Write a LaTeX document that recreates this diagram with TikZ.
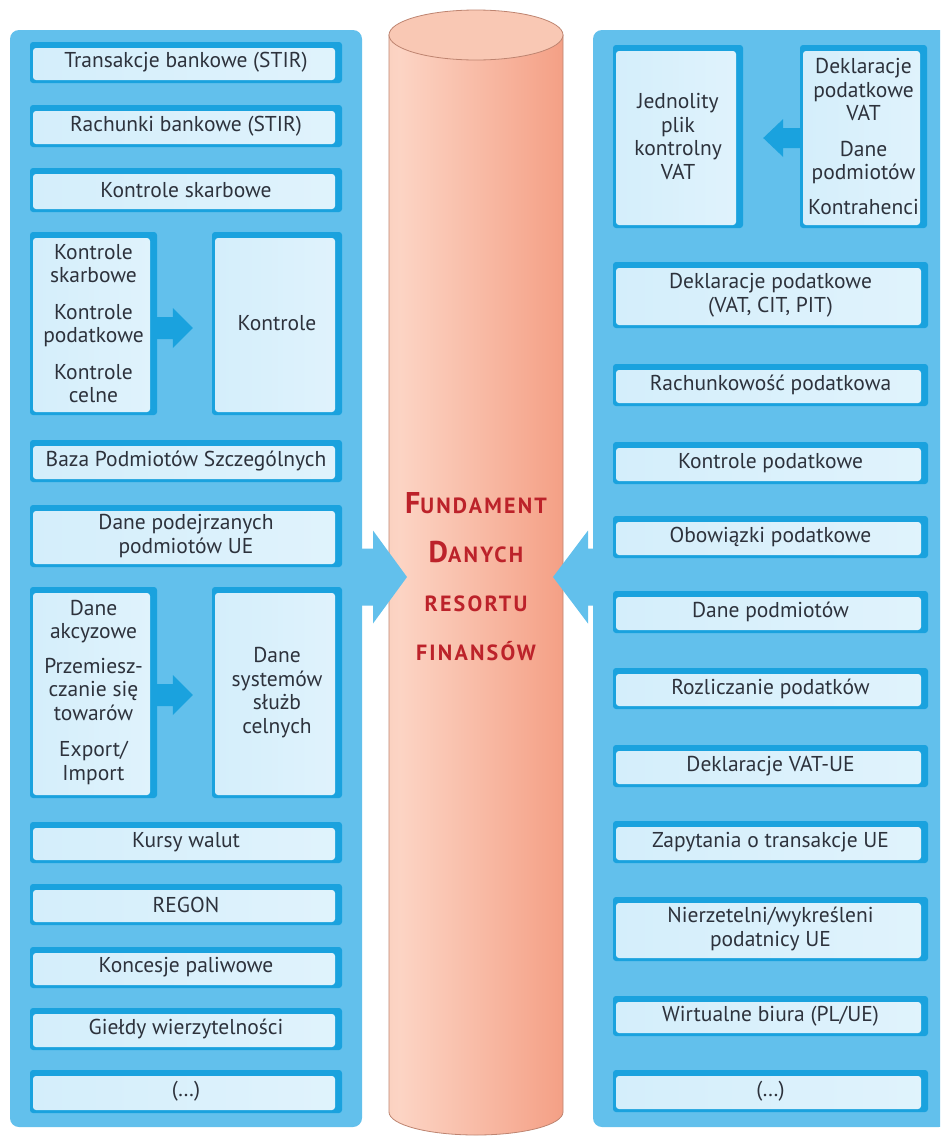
\documentclass[tikz,border=0pt]{standalone}
\usepackage{fontspec}
\setmainfont{PT Sans}
\newfontfamily\titlefam[LetterSpace=10]{PT Sans}
\usetikzlibrary{arrows.meta,calc}
\definecolor{panelblue}{RGB}{98,192,236}
\definecolor{bordblue}{RGB}{26,162,222}
\definecolor{inL}{RGB}{212,238,251}
\definecolor{inM}{RGB}{244,251,254}
\definecolor{inR}{RGB}{224,243,252}
\definecolor{txtcol}{RGB}{45,50,60}
\definecolor{cylA}{RGB}{245,190,166}
\definecolor{cylB}{RGB}{252,212,196}
\definecolor{cylC}{RGB}{240,132,100}
\definecolor{cyltop}{RGB}{249,200,180}
\definecolor{cylline}{RGB}{190,132,112}
\definecolor{titlered}{RGB}{188,34,42}
\pgfdeclarehorizontalshading{cylshade}{100bp}{color(0bp)=(cylA); color(28bp)=(cylB); color(100bp)=(cylC)}
\newcommand\boxfont{\fontsize{21.5}{23.5}\selectfont}
\newcommand\blockarr[6]{%
  \fill[#1] let \p1=#2, \p2=#3, \n1={ifthenelse(\x2>\x1,1,-1)} in
   (\x1,\y1+#4pt) -- (\x2-\n1*#6pt,\y1+#4pt) -- (\x2-\n1*#6pt,\y1+#5pt) -- (\x2,\y1)
   -- (\x2-\n1*#6pt,\y1-#5pt) -- (\x2-\n1*#6pt,\y1-#4pt) -- (\x1,\y1-#4pt) -- cycle;}
\tikzset{
  panel/.style={rectangle, fill=panelblue, rounded corners=9pt, inner sep=0pt},
  bx/.style={rectangle, fill=bordblue, rounded corners=3pt, inner sep=0pt, text=txtcol,
    align=center, font=\boxfont,
    path picture={\shade[left color=inL, middle color=inM, right color=inR]
      ([xshift=3pt,yshift=3pt]path picture bounding box.south west) rectangle
      ([xshift=-7pt,yshift=-6pt]path picture bounding box.north east);}},
  lbox/.style={bx, minimum width=312pt, minimum height=#1},
  rbox/.style={bx, minimum width=315pt, minimum height=#1},
  gbox/.style 2 args={bx, minimum width=#1, minimum height=#2},
}
\begin{document}
\begin{tikzpicture}[x=1pt,y=-1pt]
\useasboundingbox (0,0) rectangle (940,1138);
\clip (0,0) rectangle (940,1138);
\fill[white] (0,0) rectangle (940,1138);
% panels
\node[panel, minimum width=352pt, minimum height=1097pt] (lp) at (186,578.5) {};
\node[panel, minimum width=355pt, minimum height=1097pt] (rp) at (770.5,578.5) {};
% cylinder
\shadedraw[shading=cylshade, draw=cylline, line width=0.8pt]
  (389,35) -- (389,1112) arc[start angle=180, end angle=360, x radius=87pt, y radius=23pt] -- (563,35) -- cycle;
\filldraw[fill=cyltop, draw=cylline, line width=0.8pt] (476,35) ellipse [x radius=87pt, y radius=25pt];
\coordinate (tipL) at (407,577);
\coordinate (tipR) at (553,577);
\blockarr{panelblue}{([xshift=-3pt]lp.east |- tipL)}{(tipL)}{28.5}{46.5}{34}
\blockarr{panelblue}{([xshift=3pt]rp.west |- tipR)}{(tipR)}{28.5}{46.5}{35}
\node[font=\titlefam\bfseries\fontsize{22}{49}\selectfont, text=titlered, align=center] (title) at (476,577)
  {{\fontsize{30}{49}\selectfont F}UNDAMENT\\{\fontsize{30}{49}\selectfont D}ANYCH\\RESORTU\\FINANSÓW};
% left column
\node[lbox=41pt] (L1) at (186,62.5) {Transakcje bankowe (STIR)};
\node[lbox=42pt] (L2) at (186,126) {Rachunki bankowe (STIR)};
\node[lbox=44pt] (L3) at (186,190) {Kontrole skarbowe};
\node[gbox={127pt}{183pt}] (K1) at (93.5,323.5) {Kontrole\\skarbowe\\[13pt]Kontrole\\podatkowe\\[13pt]Kontrole\\celne};
\node[gbox={130pt}{183pt}] (K2) at (277,323.5) {Kontrole};
\node[lbox=42pt] (L5) at (186,461) {Baza Podmiotów Szczególnych};
\node[lbox=62pt] (L6) at (186,536) {Dane podejrzanych\\podmiotów UE};
\node[gbox={127pt}{211pt}] (D1) at (93.5,692.5) {Dane\\akcyzowe\\[11pt]Przemiesz-\\czanie się\\towarów\\[13pt]Export/\\Import};
\node[gbox={130pt}{211pt}] (D2) at (277,692.5) {Dane\\systemów\\służb\\celnych};
\node[lbox=41pt] (L8) at (186,842.5) {Kursy walut};
\node[lbox=41pt] (L9) at (186,904.5) {REGON};
\node[lbox=41pt] (L10) at (186,967.5) {Koncesje paliwowe};
\node[lbox=42pt] (L11) at (186,1029) {Giełdy wierzytelności};
\node[lbox=43pt] (L12) at (186,1091.5) {(…)};
\blockarr{bordblue}{([yshift=-4.5pt]K1.east)}{([xshift=-19pt,yshift=-4.5pt]K2.west)}{11}{20}{20}
\blockarr{bordblue}{([yshift=-2.5pt]D1.east)}{([xshift=-19pt,yshift=-2.5pt]D2.west)}{11}{20}{20}
% right column
\node[gbox={130pt}{183pt}] (J1) at (678,136.5) {Jednolity\\plik\\kontrolny\\VAT};
\node[gbox={127pt}{183pt}] (J2) at (863.5,136.5) {Deklaracje\\podatkowe\\VAT\\[12pt]Dane\\podmiotów\\[11pt]Kontrahenci};
\blockarr{bordblue}{([yshift=-1.5pt]J2.west)}{([xshift=20pt,yshift=-1.5pt]J1.east)}{10}{19}{20}
\node[rbox=66pt] (R1) at (770.5,295) {Deklaracje podatkowe\\(VAT, CIT, PIT)};
\node[rbox=42pt] (R2) at (770.5,385) {Rachunkowość podatkowa};
\node[rbox=42pt] (R3) at (770.5,463) {Kontrole podatkowe};
\node[rbox=42pt] (R4) at (770.5,537) {Obowiązki podatkowe};
\node[rbox=42pt] (R5) at (770.5,612) {Dane podmiotów};
\node[rbox=41pt] (R6) at (770.5,688.5) {Rozliczanie podatków};
\node[rbox=42pt] (R7) at (770.5,766) {Deklaracje VAT-UE};
\node[rbox=42pt] (R8) at (770.5,842) {Zapytania o transakcje UE};
\node[rbox=64pt] (R9) at (770.5,929) {Nierzetelni/wykreśleni\\podatnicy UE};
\node[rbox=40pt] (R10) at (770.5,1016) {Wirtualne biura (PL/UE)};
\node[rbox=42pt] (R11) at (770.5,1091) {(…)};
\end{tikzpicture}
\end{document}
